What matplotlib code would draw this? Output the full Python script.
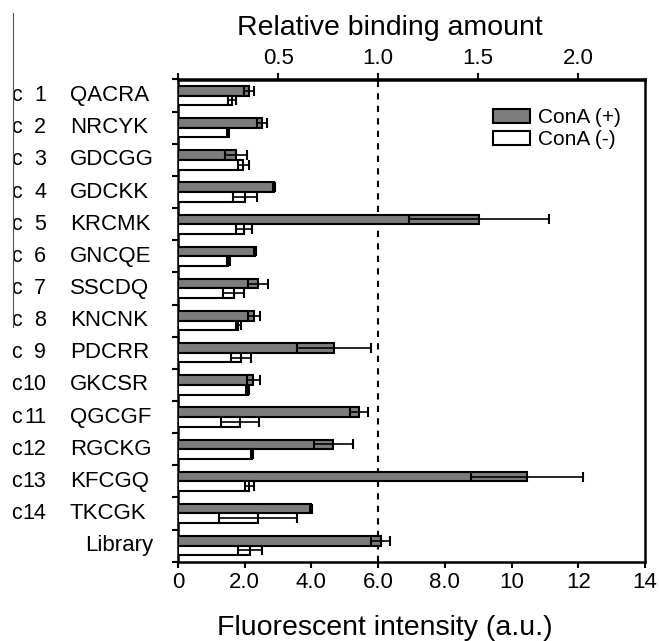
import numpy as np
import matplotlib
matplotlib.use("Agg")
import matplotlib.pyplot as plt
from matplotlib.lines import Line2D
from matplotlib.transforms import blended_transform_factory

plt.rcParams["font.family"] = ["Liberation Sans", "DejaVu Sans"]

# Data
codes = ["1", "2", "3", "4", "5", "6", "7", "8", "9", "10", "11", "12", "13", "14", ""]
peptides = ["QACRA", "NRCYK", "GDCGG", "GDCKK", "KRCMK", "GNCQE", "SSCDQ", "KNCNK",
            "PDCRR", "GKCSR", "QGCGF", "RGCKG", "KFCGQ", "TKCGK", "Library"]
plus = [2.13, 2.52, 1.73, 2.88, 9.02, 2.30, 2.40, 2.28, 4.68, 2.26, 5.43, 4.66, 10.46, 4.00, 6.08]
plus_err = [0.15, 0.16, 0.33, 0.03, 2.10, 0.03, 0.30, 0.19, 1.12, 0.20, 0.28, 0.59, 1.67, 0.03, 0.28]
minus = [1.63, 1.51, 1.96, 2.00, 1.98, 1.51, 1.67, 1.81, 1.89, 2.09, 1.86, 2.22, 2.14, 2.41, 2.15]
minus_err = [0.12, 0.03, 0.17, 0.36, 0.23, 0.05, 0.31, 0.07, 0.30, 0.05, 0.57, 0.03, 0.14, 1.17, 0.36]
library_ref = 6.0  # value corresponding to relative binding = 1.0

W, H = 659, 641
fig = plt.figure(figsize=(W / 100, H / 100), dpi=100)
ax = fig.add_axes([178 / W, 1 - 561.7 / H, (645 - 178) / W, (561.7 - 79.5) / H])

y = np.arange(len(peptides))
h = 0.3
err_kw = dict(ecolor="black", elinewidth=1.2, capsize=3.5, capthick=1.5, zorder=4)

ax.barh(y - h / 2, plus, height=h, color="#7c7c7c", edgecolor="black", linewidth=1.5,
        label="ConA (+)", zorder=3)
ax.barh(y + h / 2, minus, height=h, color="white", edgecolor="black", linewidth=1.5,
        label="ConA (-)", zorder=3)
ax.errorbar(plus, y - h / 2, xerr=plus_err, fmt="none", **err_kw)
ax.errorbar(minus, y + h / 2, xerr=minus_err, fmt="none", **err_kw)

ax.axvline(library_ref, color="black", linestyle=(0, (3, 3)), linewidth=1.5, zorder=2)

ax.set_xlim(0, 14)
ax.set_ylim(len(peptides) - 0.5, -0.5)
ax.set_xticks(np.arange(0, 15, 2))
ax.set_xticklabels(["0", "2.0", "4.0", "6.0", "8.0", "10", "12", "14"], fontsize=16)
ax.set_yticks(np.arange(-0.5, len(peptides), 1.0))
ax.set_yticklabels([])
ax.tick_params(axis="both", direction="out", length=4, width=1.5)
for s in ax.spines.values():
    s.set_linewidth(1.8)

# top axis: relative binding amount
sec = ax.secondary_xaxis("top", functions=(lambda v: v / library_ref, lambda v: v * library_ref))
sec.set_xticks([0, 0.5, 1.0, 1.5, 2.0])
sec.set_xticklabels(["", "0.5", "1.0", "1.5", "2.0"], fontsize=16)
sec.tick_params(direction="out", length=4, width=1.5)
sec.spines["top"].set_linewidth(1.8)

# category labels
tr = blended_transform_factory(fig.transFigure, ax.transData)
for i, (c, p) in enumerate(zip(codes, peptides)):
    if c:
        ax.text(11 / W, i, "c", transform=tr, ha="left", va="center", fontsize=15.5)
        ax.text(46 / W, i, c, transform=tr, ha="right", va="center", fontsize=15.5)
        ax.text(70 / W, i, p, transform=tr, ha="left", va="center", fontsize=16)
    else:
        ax.text(85 / W, i, p, transform=tr, ha="left", va="center", fontsize=16)

fig.text(390 / W, 1 - 28 / H, "Relative binding amount", ha="center", va="center", fontsize=20.5)
fig.text(385 / W, 1 - 628 / H, "Fluorescent intensity (a.u.)", ha="center", va="center", fontsize=20.5)

# stray vertical rule at the left edge of the original figure
fig.add_artist(Line2D([13 / W, 13 / W], [1 - 13 / H, 1 - 327 / H], transform=fig.transFigure,
                      color="#555555", linewidth=0.8))

ax.legend(loc="upper right", bbox_to_anchor=(0.985, 0.975), frameon=False, fontsize=15,
          handlelength=1.8, handleheight=0.7, handletextpad=0.4, labelspacing=0.15,
          borderpad=0.3)

fig.savefig("out.png", dpi=100)
